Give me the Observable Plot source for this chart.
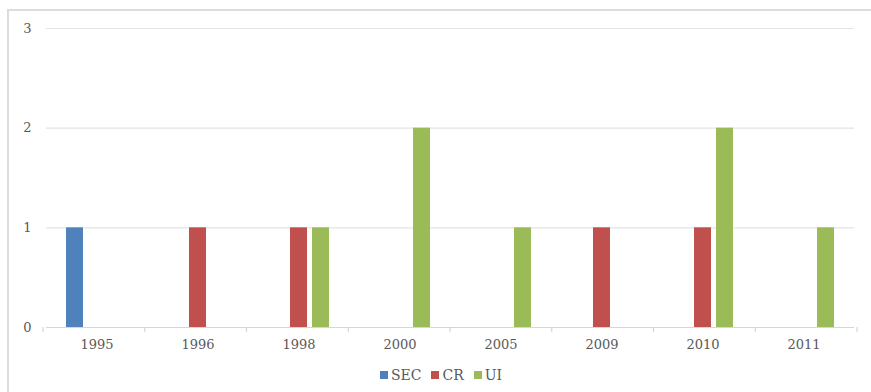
<!DOCTYPE html>
<html>
<head>
<meta charset="utf-8">
<script src="https://cdn.jsdelivr.net/npm/d3@7"></script>
<script src="https://cdn.jsdelivr.net/npm/@observablehq/plot@0.6"></script>
<style>
  html, body { margin: 0; padding: 0; background: #fff; }
  body { width: 871px; height: 392px; overflow: hidden; position: relative; }
  #frame {
    position: absolute; left: 7px; top: 9px; width: 900px; height: 420px;
    border: 2px solid #dcdcdc; box-sizing: border-box;
  }
  #chart { position: absolute; left: 0; top: 0; }
  #legend {
    position: absolute; left: 43px; top: 366px; width: 814px;
    display: flex; justify-content: center;
  }
  #legend .lg-swatches { margin: 0 0 0 -8px; min-height: 18px; }
  #legend .lg-swatch { margin-right: 10px; }
  #legend .lg-swatch > svg { margin-right: 3px; }
</style>
</head>
<body>
<div id="frame"></div>
<div id="chart"></div>
<div id="legend"></div>
<script>
// Event counts per year, one array per category
const years = ["1995", "1996", "1998", "2000", "2005", "2009", "2010", "2011"];
const series = ["SEC", "CR", "UI"];
const sec = [1, 0, 0, 0, 0, 0, 0, 0];
const cr  = [0, 1, 1, 0, 0, 1, 1, 0];
const ui  = [0, 0, 1, 2, 1, 0, 2, 1];
const colors = ["#4f81bd", "#c0504d", "#9bbb59"];
const yTicks = [0, 1, 2, 3];

const valuesBySeries = [sec, cr, ui];
const rows = years.flatMap((year, i) =>
  series.map((s, j) => ({ year, series: s, value: valuesBySeries[j][i] }))
);

const font = "'DejaVu Serif', 'Liberation Serif', serif";

const chart = Plot.plot({
  width: 871,
  height: 360,
  marginLeft: 43,
  marginRight: 14,
  marginTop: 28,
  marginBottom: 33,
  style: { fontFamily: font, fontSize: "13px", color: "#595959", background: "transparent" },
  fx: { domain: years, padding: 0, label: null, axis: "bottom", tickSize: 0, tickPadding: 12 },
  x: { domain: series, paddingInner: 0.217, paddingOuter: 0.82, axis: null },
  y: { domain: [0, 3], ticks: yTicks, tickFormat: d => String(d), tickSize: 0, tickPadding: 15, label: null },
  color: { domain: series, range: colors },
  marks: [
    Plot.ruleY(yTicks.filter(t => t > 0), { stroke: "#e3e3e3", strokeWidth: 1.2 }),
    Plot.ruleY([0], { stroke: "#d6d6d6", strokeWidth: 1.2 }),
    Plot.barY(rows, { fx: "year", x: "series", y: "value", fill: "series" })
  ]
});
document.getElementById("chart").append(chart);

// Small tick marks at the category boundaries along the baseline
const fxScale = chart.scale("fx");
const yScale = chart.scale("y");
const band = d3.scaleBand(fxScale.domain, fxScale.range).padding(0);
const base = yScale.range[0];
const edges = fxScale.domain.map(d => band(d)).concat([band(fxScale.domain.at(-1)) + band.bandwidth()]);
d3.select(chart).append("g")
  .attr("stroke", "#d6d6d6")
  .attr("stroke-width", 1.2)
  .selectAll("line")
  .data(edges)
  .join("line")
  .attr("x1", d => d).attr("x2", d => d)
  .attr("y1", base).attr("y2", base + 5);

// Legend below the plot
const legend = Plot.legend({
  color: { domain: series, range: colors },
  swatchSize: 8,
  className: "lg",
  style: { fontFamily: font, fontSize: "14px", color: "#595959" }
});
document.getElementById("legend").append(legend);
</script>
</body>
</html>
